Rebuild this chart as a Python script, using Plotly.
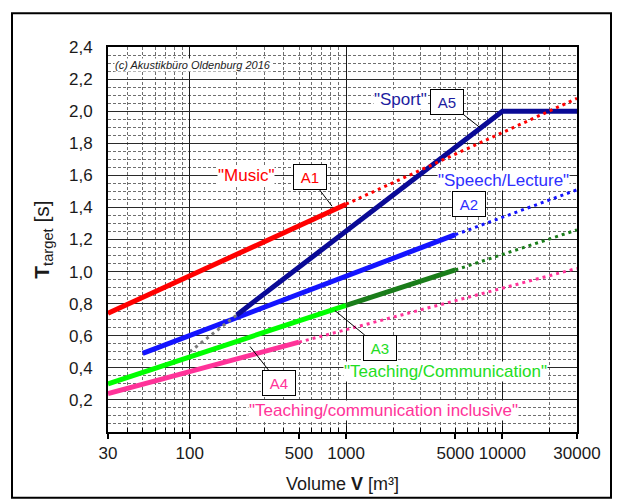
import math
import plotly.graph_objects as go

# ---------------- data ----------------
V_A1 = [30, 1000];        T_A1 = [0.74, 1.42]
V_A1_ext = [1000, 30000]; T_A1_ext = [1.42, 2.08]
V_A2 = [50, 5000];        T_A2 = [0.49, 1.23]
V_A2_ext = [5000, 30000]; T_A2_ext = [1.23, 1.51]
V_A3a = [30, 1000];       T_A3a = [0.30, 0.79]
V_A3b = [1000, 5000];     T_A3b = [0.79, 1.01]
V_A3_ext = [5000, 30000]; T_A3_ext = [1.01, 1.26]
V_A4 = [30, 500];         T_A4 = [0.24, 0.56]
V_A4_ext = [500, 30000];  T_A4_ext = [0.56, 1.02]
V_A5 = [200, 10000, 30000]; T_A5 = [0.73, 2.0, 2.0]
V_A5_ext = [100, 200];    T_A5_ext = [0.50, 0.73]

x_tickvals = [30, 100, 500, 1000, 5000, 10000, 30000]
x_ticktext = ["30", "100", "500", "1000", "5000", "10000", "30000"]
x_decades = [100, 1000, 10000]
x_minor = [40, 50, 60, 70, 80, 90, 200, 300, 400, 500, 600, 700, 800, 900,
           2000, 3000, 4000, 5000, 6000, 7000, 8000, 9000, 20000]
y_tickvals = [0.2, 0.4, 0.6, 0.8, 1.0, 1.2, 1.4, 1.6, 1.8, 2.0, 2.2, 2.4]

# ---------------- layout geometry ----------------
W, H = 622, 502
ML, MR, MT, MB = 108, 45, 47, 68
PW = W - ML - MR
PH = H - MT - MB
PB = H - MB


def px(xp):
    return (xp - ML) / PW


def py(yp):
    return (PB - yp) / PH


RED = "#ff0000"
NAVY = "#0a0a96"
BLUE = "#1414ff"
LGREEN = "#00ff00"
DGREEN = "#1a7d1a"
PINK = "#ff3399"
GRAY = "#7a7a7a"
DOT = "3px,4px"

fig = go.Figure()


def solid(v, t, c, w=5):
    fig.add_trace(go.Scatter(x=v, y=t, mode="lines", line=dict(color=c, width=w),
                             hoverinfo="skip", showlegend=False))


def dotted(v, t, c, w=3):
    fig.add_trace(go.Scatter(x=v, y=t, mode="lines", line=dict(color=c, width=w, dash=DOT),
                             hoverinfo="skip", showlegend=False))


solid(V_A4, T_A4, PINK)
solid(V_A3a, T_A3a, LGREEN)
solid(V_A3b, T_A3b, DGREEN)
solid(V_A2, T_A2, BLUE)
solid(V_A1, T_A1, RED)
dotted(V_A5_ext, T_A5_ext, GRAY)
solid(V_A5, T_A5, NAVY)
dotted(V_A4_ext, T_A4_ext, PINK)
dotted(V_A3_ext, T_A3_ext, DGREEN)
dotted(V_A2_ext, T_A2_ext, BLUE)
dotted(V_A1_ext, T_A1_ext, RED)

# carrier trace for label axis
fig.add_trace(go.Scatter(x=[30], y=[None], xaxis="x2", mode="lines",
                         hoverinfo="skip", showlegend=False))

FONT = "Liberation Sans, Arial, sans-serif"
xr = [math.log10(30), math.log10(30000)]

fig.update_layout(
    width=W, height=H,
    margin=dict(l=ML, r=MR, t=MT, b=MB),
    paper_bgcolor="white", plot_bgcolor="white",
    showlegend=False,
    separators=",.",
    font=dict(family=FONT, size=17, color="#1a1a1a"),
    xaxis=dict(
        type="log", range=xr, tickmode="array", tickvals=x_decades,
        showticklabels=False, showgrid=True, gridcolor="#1a1a1a", gridwidth=1.3,
        ticks="inside", ticklen=6, tickcolor="black",
        showline=True, linecolor="black", linewidth=2, mirror=True, zeroline=False,
        minor=dict(tickmode="array", tickvals=x_minor, showgrid=True, gridcolor="#6e6e6e",
                   griddash="3px,2px", gridwidth=1, ticks="inside", ticklen=4,
                   tickcolor="black"),
    ),
    xaxis2=dict(
        type="log", range=xr, overlaying="x", anchor="y", side="bottom",
        tickmode="array", tickvals=x_tickvals, ticktext=x_ticktext,
        ticks="outside", ticklen=6, tickwidth=1.5, tickcolor="black",
        showgrid=False, showline=False, zeroline=False,
        tickfont=dict(size=17, family=FONT, color="#1a1a1a"),
        title=dict(text="Volume <b>V</b> [m³]", font=dict(size=18, family=FONT),
                   standoff=14),
    ),
    yaxis=dict(
        range=[0, 2.4], tickmode="array", tickvals=y_tickvals, tickformat=".1f",
        showgrid=True, gridcolor="#2a2a2a", gridwidth=1,
        minor=dict(dtick=0.05, tick0=0, showgrid=True, gridcolor="#6e6e6e",
                   griddash="3px,2px", gridwidth=1),
        showline=True, linecolor="black", linewidth=2, mirror=True, zeroline=False,
        ticks="", ticklabelstandoff=10,
        title=dict(text="<b>T</b><sub>target</sub> [s]", font=dict(size=21, family=FONT),
                   standoff=14),
    ),
)

ann = []


def text_label(t, xp, yp, c, size=17):
    ann.append(dict(text=t, x=px(xp), y=py(yp), xref="paper", yref="paper",
                    xanchor="center", yanchor="middle", showarrow=False,
                    font=dict(color=c, size=size, family=FONT),
                    bgcolor="white", borderpad=0))


def box_label(t, bx, by, c, tx=None, ty=None):
    d = dict(text=t, xref="paper", yref="paper",
             font=dict(color=c, size=15, family=FONT),
             bgcolor="white", bordercolor="black", borderwidth=1, borderpad=4,
             width=24, height=16)
    if tx is None:
        d.update(x=px(bx), y=py(by), showarrow=False, xanchor="center", yanchor="middle")
    else:
        d.update(x=px(tx), y=py(ty), showarrow=True, arrowhead=0, arrowwidth=1,
                 arrowcolor="black", ax=bx - tx, ay=by - ty, standoff=0, startstandoff=0)
    ann.append(d)


ann.append(dict(text="<i>(c) Akustikbüro Oldenburg 2016</i>", x=px(193), y=py(65),
                xref="paper", yref="paper", xanchor="center", yanchor="middle",
                showarrow=False, font=dict(size=11, family=FONT, color="#222"),
                bgcolor="white", borderpad=0))

text_label('"Music"', 246, 176, RED)
text_label('"Sport"', 400, 100, "#1c1ca0")
text_label('"Speech/Lecture"', 503, 181, "#2e2eff")
text_label('"Teaching/Communication"', 445, 373, "#22dd22")
text_label('"Teaching/communication inclusive"', 383, 412, PINK)

box_label("A1", 310, 178, RED, 332, 207)
box_label("A5", 447, 102, "#1c1ca0", 480, 128)
box_label("A2", 469, 205, "#2e2eff")
box_label("A3", 380, 349, "#22dd22", 335, 312)
box_label("A4", 279, 385, PINK, 250, 348)

fig.update_layout(annotations=ann)

# outer frame around the whole picture
fig.add_shape(type="rect", xref="paper", yref="paper",
              x0=px(12), x1=px(611), y0=py(500), y1=py(13),
              line=dict(color="black", width=2), fillcolor="rgba(0,0,0,0)", layer="above")

fig.write_html("out.html")
